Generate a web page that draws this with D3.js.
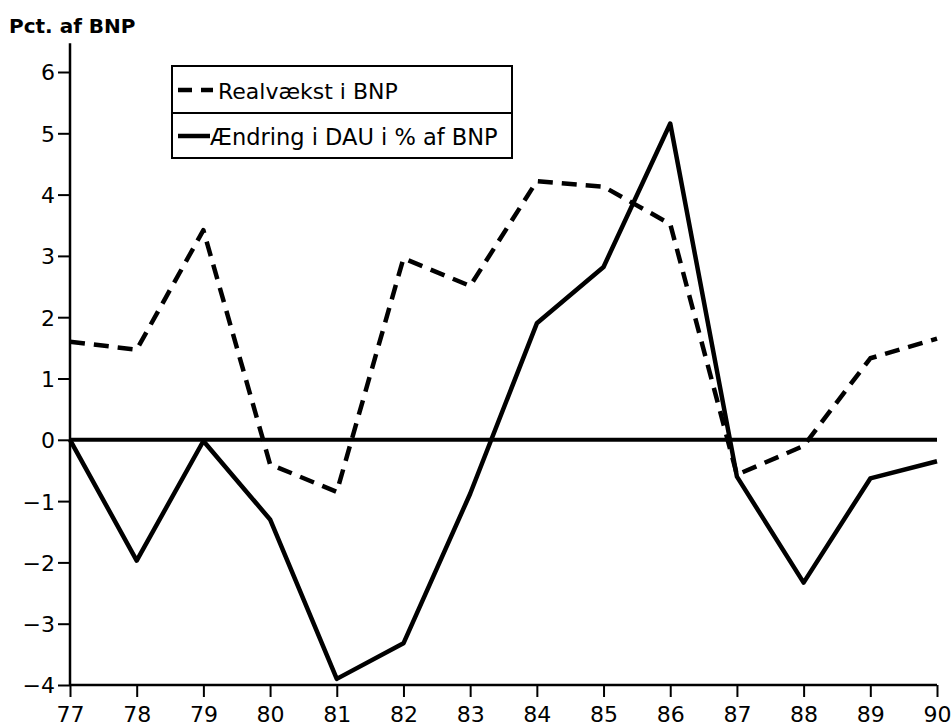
<!DOCTYPE html>
<html><head><meta charset="utf-8">
<script src="https://cdn.jsdelivr.net/npm/d3@7"></script>
<style>body{margin:0;background:#fff}svg{display:block}</style>
</head><body>
<svg id="c" width="952" height="727"></svg>
<script>
const years = [77,78,79,80,81,82,83,84,85,86,87,88,89,90];
const realvaekst = [1.6,1.47,3.42,-0.4,-0.85,2.96,2.51,4.22,4.13,3.52,-0.57,-0.1,1.33,1.65];
const dauChange = [0,-1.97,-0.02,-1.3,-3.9,-3.32,-0.88,1.9,2.82,5.16,-0.6,-2.33,-0.63,-0.35];
const yTicks = [-4,-3,-2,-1,0,1,2,3,4,5,6];
const seriesNames = ["Realvækst i BNP","Ændring i DAU i % af BNP"];
const yTitle = "Pct. af BNP";

const svg = d3.select("#c");
const font = "DejaVu Sans, sans-serif";
const x = d3.scaleLinear().domain([77,90]).range([70,937]);
const y = d3.scaleLinear().domain([-4,6]).range([685,72]);

// y axis
const ya = svg.append("g").attr("transform","translate(70,0)")
  .call(d3.axisLeft(y).tickValues(yTicks).tickSize(12).tickPadding(3)
    .tickFormat(d=> d<0 ? "\u2212"+Math.abs(d) : d));
ya.select(".domain").remove();
ya.selectAll(".tick line").attr("stroke","#000").attr("stroke-width",2);
ya.selectAll("text").attr("font-family",font).attr("font-size",22).attr("fill","#000").attr("dy","0.36em");
svg.append("line").attr("x1",70).attr("x2",70).attr("y1",y(-4)).attr("y2",y(6.47))
  .attr("stroke","#000").attr("stroke-width",2.5);

// x axis
const xa = svg.append("g").attr("transform","translate(0,685)")
  .call(d3.axisBottom(x).tickValues(years).tickSize(12).tickPadding(9).tickFormat(d=>d));
xa.select(".domain").remove();
xa.selectAll(".tick line").attr("stroke","#000").attr("stroke-width",2);
xa.selectAll("text").attr("font-family",font).attr("font-size",22).attr("fill","#000");
svg.append("line").attr("x1",x(77)).attr("x2",x(90)).attr("y1",y(-4)).attr("y2",y(-4))
  .attr("stroke","#000").attr("stroke-width",2.5);

// zero line
svg.append("line").attr("x1",x(77)).attr("x2",x(90)).attr("y1",y(0)).attr("y2",y(0))
  .attr("stroke","#000").attr("stroke-width",4);

const line = d3.line().x((d,i)=>x(years[i])).y(d=>y(d));
svg.append("path").datum(realvaekst).attr("d",line).attr("fill","none")
  .attr("stroke","#000").attr("stroke-width",4.5).attr("stroke-dasharray","15,9")
  .attr("stroke-linejoin","round");
svg.append("path").datum(dauChange).attr("d",line).attr("fill","none")
  .attr("stroke","#000").attr("stroke-width",4.5).attr("stroke-linejoin","round");

// title
svg.append("text").attr("x",9).attr("y",33).attr("font-family",font).attr("font-weight","bold")
  .attr("font-size",20).text(yTitle);

// legend
const lg = svg.append("g");
lg.append("rect").attr("x",172).attr("y",66).attr("width",340).attr("height",92)
  .attr("fill","#fff").attr("stroke","#000").attr("stroke-width",2);
lg.append("line").attr("x1",172).attr("x2",512).attr("y1",113).attr("y2",113).attr("stroke","#000").attr("stroke-width",2);
lg.append("line").attr("x1",178).attr("x2",213).attr("y1",90).attr("y2",90)
  .attr("stroke","#000").attr("stroke-width",4.5).attr("stroke-dasharray","14,9");
lg.append("line").attr("x1",178).attr("x2",210).attr("y1",136).attr("y2",136)
  .attr("stroke","#000").attr("stroke-width",4.5);
lg.append("text").attr("x",218).attr("y",99).attr("font-family",font).attr("font-size",22).text(seriesNames[0]);
lg.append("text").attr("x",210).attr("y",145).attr("font-family",font).attr("font-size",22.5).text(seriesNames[1]);
</script>
</body></html>
